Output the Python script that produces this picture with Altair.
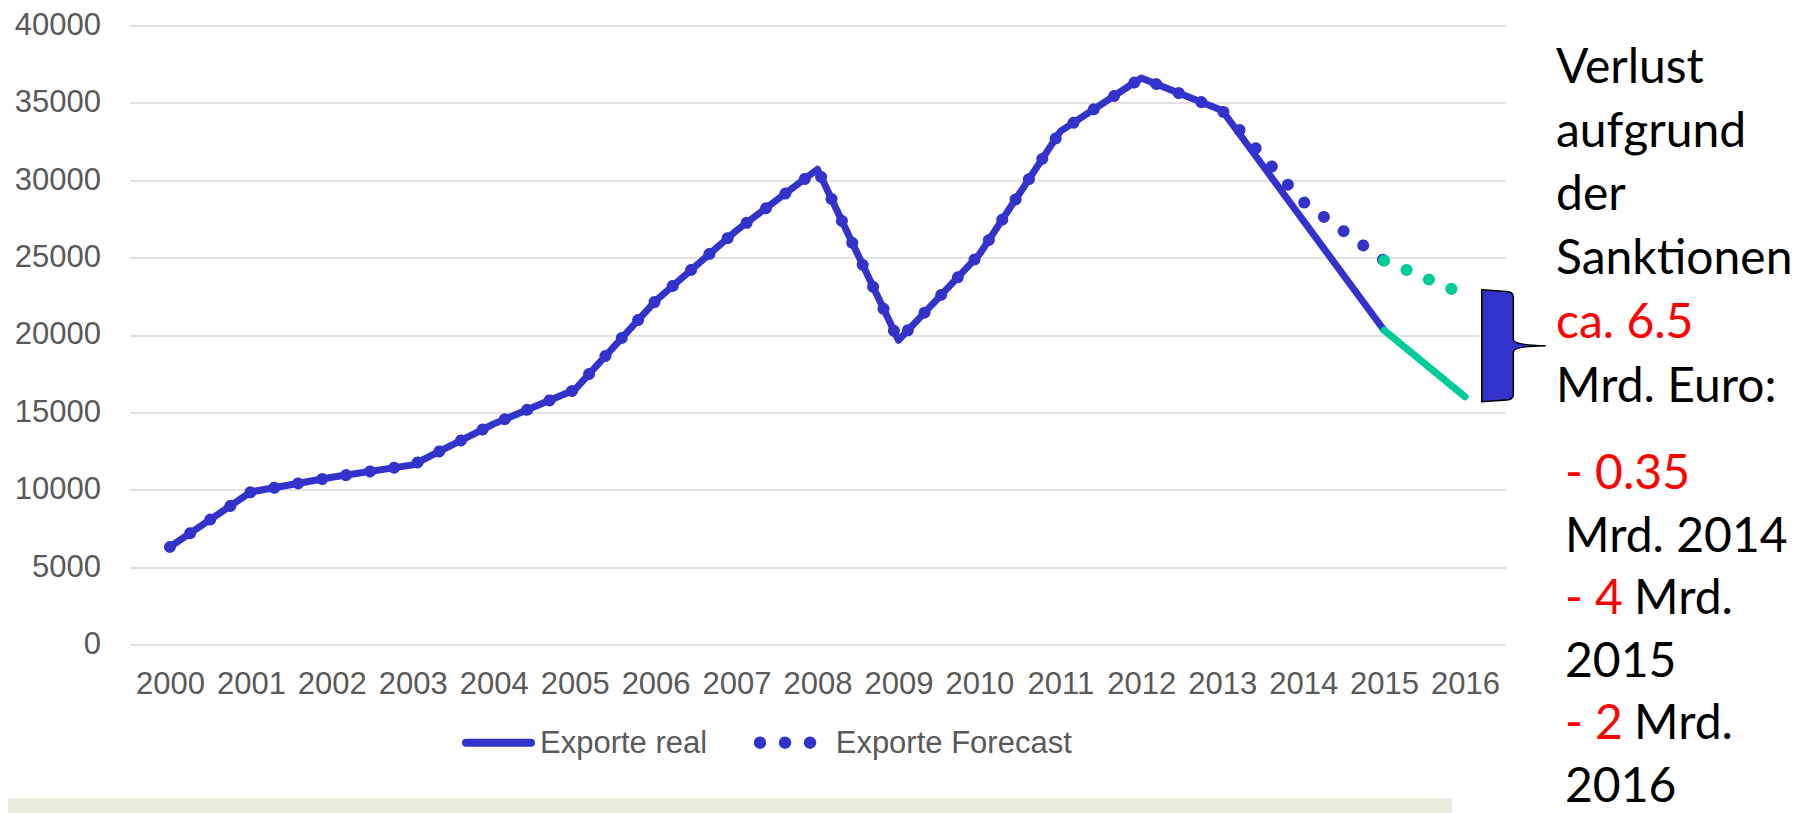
import altair as alt
import pandas as pd

# ---------------- data ----------------
years = list(range(2000, 2017))
exporte_real = [6300, 9850, 10800, 11600, 14250, 16450, 22200, 26750, 30700,
                19650, 25200, 33150, 36600, 34500, 27400, 20300, 16000]
exporte_forecast = [6300, 9850, 10800, 11600, 14250, 16450, 22200, 26750, 30700,
                    19650, 25200, 33150, 36600, 34500, 28600, 24800, 22600]
series_names = ["Exporte real", "Exporte Forecast"]
y_ticks = [0, 5000, 10000, 15000, 20000, 25000, 30000, 35000, 40000]
split_year = 2015  # sanctions period, drawn in green

note_lines = [["Verlust"], ["aufgrund"], ["der"], ["Sanktionen"], ["ca. 6.5"],
              ["Mrd. Euro:"], ["- 0.35"], ["Mrd. 2014"], ["- 4", "Mrd."],
              ["2015"], ["- 2", "Mrd."], ["2016"]]
note_red = {"ca. 6.5", "- 0.35", "- 4", "- 2"}

# ---------------- style ----------------
BLUE = "#3333CC"
GREEN = "#00CC99"
GREY = "#595959"
PL, PT = 121.5, 17.4          # plot origin inside svg
W, H = 1376, 619
TOTAL_H = 805
OX, OY = PL + 8, PT + 8       # plot origin on page


def px(x):
    return x - OX


def py(y):
    return y - OY


rows = []
for name, vals in zip(["real", "forecast"], [exporte_real, exporte_forecast]):
    for yr, v in zip(years, vals):
        if yr <= split_year:
            rows.append({"year": yr, "value": v, "series": name, "part": "main"})
        if yr >= split_year:
            rows.append({"year": yr, "value": v, "series": name, "part": "tail"})
df = pd.DataFrame(rows)

X_ENC = alt.X(
    "year:Q",
    scale=alt.Scale(domain=[years[0] - 0.5, years[-1] + 0.5], nice=False, zero=False),
    axis=alt.Axis(values=years, format="d", title=None, grid=False, domain=False,
                  ticks=False, labelPadding=25, labelFontSize=31,
                  labelFont="Liberation Sans", labelColor=GREY,
                  labelFlush=False, labelOverlap=False, labelBound=False),
)
Y_ENC = alt.Y(
    "value:Q",
    scale=alt.Scale(domain=[0, 40000], nice=False),
    axis=alt.Axis(values=y_ticks, format="d", title=None, domain=False, ticks=False,
                  labelPadding=29, labelFontSize=31, labelFont="Liberation Sans",
                  labelColor=GREY, gridColor="#D9D9D9", gridWidth=1.5),
)


def seg(series, part, color):
    d = df[(df.series == series) & (df.part == part)]
    if series == "real":
        m = alt.Chart(d).mark_line(color=color, strokeWidth=7, strokeCap="round",
                                   strokeJoin="round")
    else:
        m = alt.Chart(d).mark_line(color=color, strokeWidth=12, strokeCap="round",
                                   strokeDash=[0.01, 24.3])
    return m.encode(x=X_ENC, y=Y_ENC)


layers = [
    seg("real", "main", BLUE),
    seg("forecast", "main", BLUE),
    seg("real", "tail", GREEN),
    seg("forecast", "tail", GREEN),
]

one = pd.DataFrame({"k": [0]})

# bracket showing the loss between forecast and real in 2016
bracket_df = pd.DataFrame({"year": [years[-1]],
                           "value": [(exporte_forecast[-1] + exporte_real[-1]) / 2]})
BRACE = ("M-0.563,-1 L-0.12,-0.97 Q0,-0.96 0,-0.875 L0,-0.11 Q0,-0.01 0.58,0 "
         "Q0,0.01 0,0.11 L0,0.875 Q0,0.96 -0.12,0.97 L-0.563,1 Z")
layers.append(
    alt.Chart(bracket_df).mark_point(shape=BRACE, size=112 * 112, filled=True,
                                     fill=BLUE, stroke="black", strokeWidth=1.5,
                                     opacity=1)
    .encode(x=alt.value(px(1513.3)), y=Y_ENC)
)

# legend
ly = py(742.7)
layers.append(alt.Chart(one).mark_rule(color=BLUE, strokeWidth=8, strokeCap="round")
              .encode(x=alt.value(px(466)), x2=alt.value(px(531)), y=alt.value(ly)))
layers.append(alt.Chart(one).mark_rule(color=BLUE, strokeWidth=12.5, strokeCap="round",
                                       strokeDash=[0.01, 25])
              .encode(x=alt.value(px(760)), x2=alt.value(px(810.5)), y=alt.value(ly)))
for name, lx in zip(series_names, [540, 835.7]):
    layers.append(alt.Chart(one).mark_text(text=name, align="left", baseline="alphabetic",
                                           font="Liberation Sans", fontSize=31, color=GREY)
                  .encode(x=alt.value(px(lx)), y=alt.value(py(752.7))))

# annotation text on the right
baselines = [82.7 + 63.8 * i for i in range(6)] + [489 + 62.5 * i for i in range(6)]
for i, parts in enumerate(note_lines):
    x0 = 1556 if i < 6 else 1565
    xs = [x0, 1634]
    for j, t in enumerate(parts):
        layers.append(alt.Chart(one).mark_text(text=t, align="left", baseline="alphabetic",
                                               font="Lato", fontSize=48,
                                               color="#FF0000" if t in note_red else "#000000")
                      .encode(x=alt.value(px(xs[j])), y=alt.value(py(baselines[i]))))

# slide footer band
layers.append(alt.Chart(one).mark_rect(color="#E9E9DC")
              .encode(x=alt.value(-PL), x2=alt.value(px(1452)),
                      y=alt.value(py(798.5)), y2=alt.value(py(830))))

chart = (
    alt.layer(*layers)
    .properties(width=W, height=H,
                padding={"left": PL, "top": PT, "right": 296.5,
                         "bottom": TOTAL_H - PT - H},
                autosize=alt.AutoSizeParams(type="none"))
    .configure_view(strokeWidth=0)
)

chart.save("out.html", embed_options={"renderer": "svg", "actions": False})
